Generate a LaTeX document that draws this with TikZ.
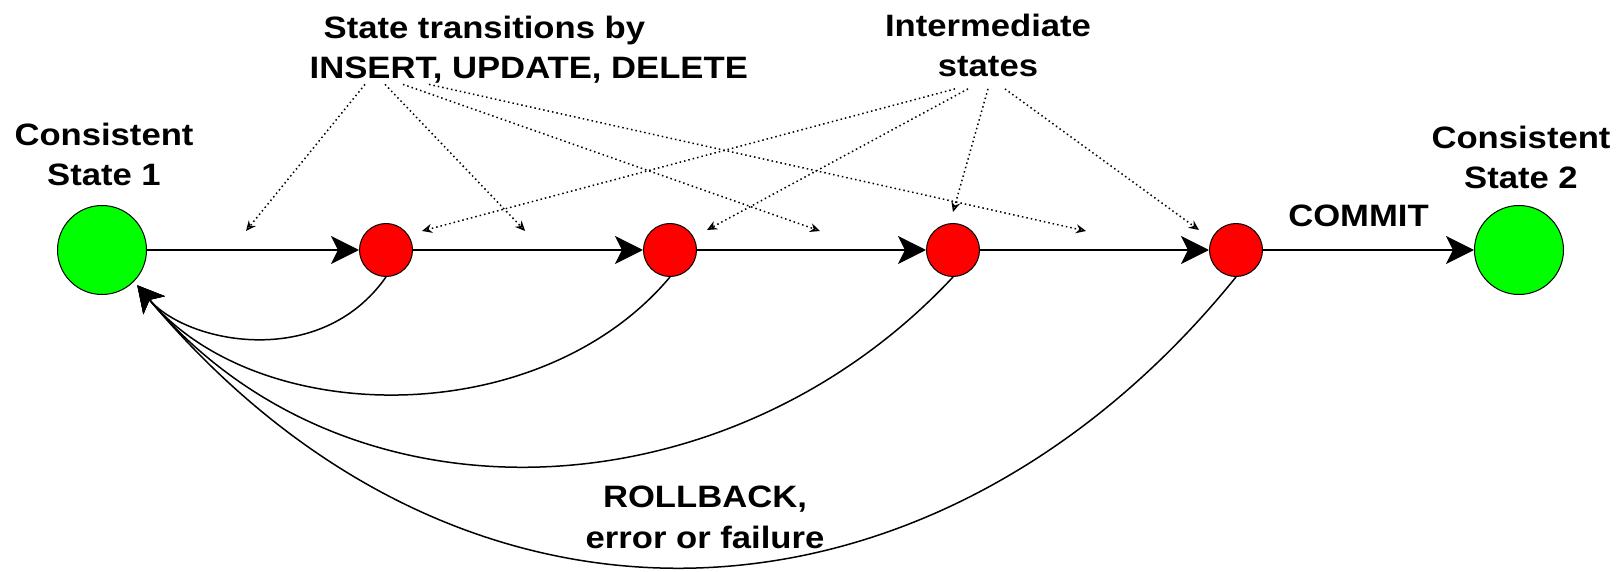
\documentclass[tikz,border=0pt]{standalone}
\usepackage{fontspec}
\newfontfamily\lblfont{Liberation Sans}[FakeStretch=1.12]
\usetikzlibrary{
  positioning,
  arrows.meta,
  calc
}
\definecolor{okgreen}{HTML}{00FF00}
\definecolor{midred}{HTML}{FF0000}

\begin{document}
\begin{tikzpicture}[
  consistent/.style={circle, draw=black, line width=0.1mm, fill=okgreen,
                     minimum size=0.89cm, inner sep=0},
  midstate/.style={circle, draw=black, line width=0.1mm, fill=midred,
                   minimum size=0.53cm, inner sep=0},
  lbl/.style={font=\lblfont\bfseries\fontsize{8.8}{11.6}\selectfont,
              inner sep=0, align=center},
  arr/.style={-{Stealth[length=2.8mm, width=2.8mm, inset=0.7mm]}, line width=0.25mm, black},
  hint/.style={-{Stealth[open, length=1mm, width=0.9mm]}, line width=0.15mm,
               dash pattern=on 0.15mm off 0.3mm},
  undo/.style={-{Stealth[length=2.6mm, width=2.8mm, inset=0.7mm]}, line width=0.15mm},
]
  \useasboundingbox (0,0) rectangle (16.24,5.71);

  % States of the transaction
  \node[consistent] (s1) at (1.02, 3.21) {};
  \node[midstate] (m1) at (3.86, 3.21) {};
  \node[midstate] (m2) at (6.70, 3.21) {};
  \node[midstate] (m3) at (9.53, 3.21) {};
  \node[midstate] (m4) at (12.36, 3.21) {};
  \node[consistent] (s2) at (15.19, 3.21) {};

  \draw[arr] (s1) -- (m1);
  \draw[arr] (m1) -- (m2);
  \draw[arr] (m2) -- (m3);
  \draw[arr] (m3) -- (m4);
  \draw[arr] (m4) -- (s2) node[lbl, midway, above=2.2mm, xshift=-1mm] (commit) {COMMIT};

  % Labels
  \node[lbl, anchor=north] (s1lbl) at (1.04, 4.49) {Consistent\\State 1};
  \node[lbl, anchor=north] (s2lbl) at (15.21, 4.46) {Consistent\\State 2};
  \node[lbl, anchor=north west, align=left] (ops) at (3.09, 5.56)
    {\hspace*{1.4mm}State transitions by\\INSERT, UPDATE, DELETE};
  \node[lbl, anchor=north] (inter) at (9.88, 5.58) {Intermediate\\states};
  \node[lbl, anchor=north] (rollback) at (7.05, 0.86) {ROLLBACK,\\error or failure};

  % Pointers from the labels
  \coordinate (t1) at ($(s1)!.507!(m1)+(0,.19)$);
  \coordinate (t2) at ($(m1)!.49!(m2)+(0,.19)$);
  \coordinate (t3) at ($(m2)!.53!(m3)+(0,.19)$);
  \coordinate (t4) at ($(m3)!.47!(m4)+(0,.19)$);
  \draw[hint] ([xshift=5.6mm]ops.south west) -- (t1);
  \draw[hint] ([xshift=7.6mm]ops.south west) -- (t2);
  \draw[hint] ([xshift=9.4mm]ops.south west) -- (t3);
  \draw[hint] ([xshift=12mm]ops.south west) -- (t4);

  \coordinate (i1) at ($(m1)+(.36,.19)$);
  \coordinate (i2) at ($(m2)+(.37,.20)$);
  \coordinate (i3) at ($(m3)+(0,.38)$);
  \coordinate (i4) at ($(m4)+(-.37,.20)$);
  \draw[hint] ([xshift=-3.3mm, yshift=-1.1mm]inter.south) -- (i1);
  \draw[hint] ([xshift=-2mm, yshift=-1.1mm]inter.south) -- (i2);
  \draw[hint] ([yshift=-1.1mm]inter.south) -- (i3);
  \draw[hint] ([xshift=1.7mm, yshift=-1.1mm]inter.south) -- (i4);

  % Rollback to the first consistent state
  \coordinate (rb) at ([shift={(.035,-.035)}]s1.south east);
  \draw[undo] (m1.south) .. controls (3.20, 2.00) and (1.86, 2.28) .. (rb);
  \draw[undo] (m2.south) .. controls (5.40, 1.39) and (2.58, 1.42) .. (rb);
  \draw[undo] (m3.south) .. controls (7.29, 0.54) and (3.48, 0.35) .. (rb);
  \draw[undo] (m4.south) .. controls (9.41, -0.71) and (4.69, -1.09) .. (rb);

\end{tikzpicture}
\end{document}
